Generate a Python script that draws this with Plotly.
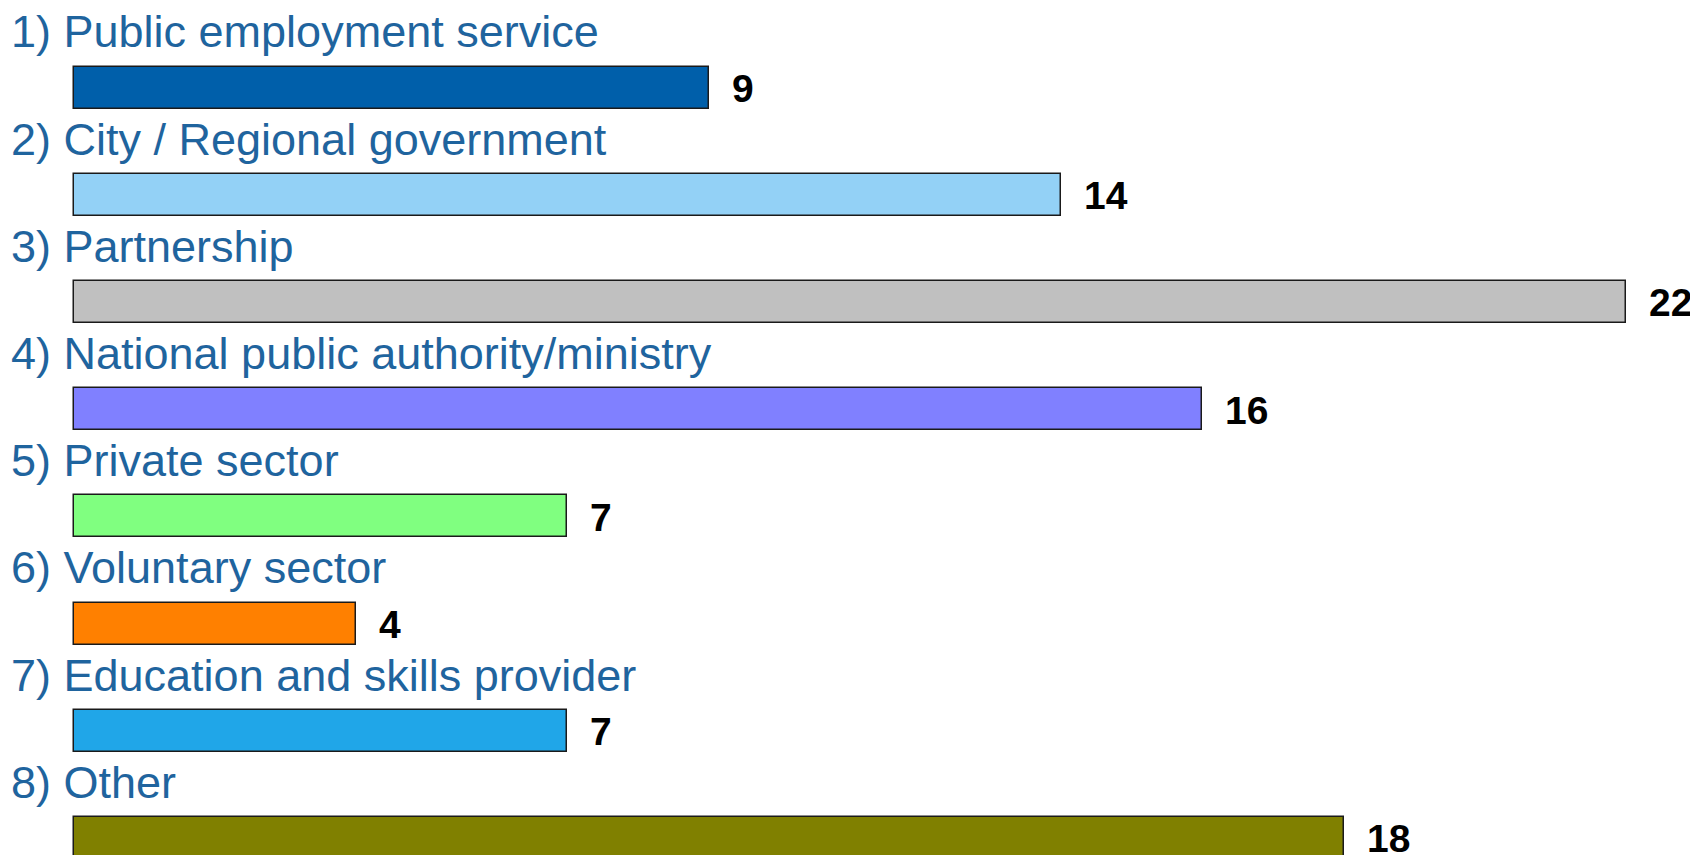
import plotly.graph_objects as go

categories = [
    "1) Public employment service",
    "2) City / Regional government",
    "3) Partnership",
    "4) National public authority/ministry",
    "5) Private sector",
    "6) Voluntary sector",
    "7) Education and skills provider",
    "8) Other",
]
values = [9, 14, 22, 16, 7, 4, 7, 18]
colors = ["#005FAA", "#93D1F6", "#C0C0C0", "#8080FF", "#80FF80", "#FF8000", "#20A6E8", "#808000"]

# page body has an 8px margin; compensate so marks land where the reference has them
OFF = 8
W, H = 1698, 855
x0_px, px_per_unit = 73.6 - OFF, 70.55
y0_px, pitch = 87.5 - OFF, 107.2

pos = list(range(len(categories)))

fig = go.Figure()
fig.add_trace(go.Bar(
    x=values, y=pos, orientation="h",
    marker=dict(color=colors, line=dict(color="#1a1a1a", width=1.5)),
    width=42 / pitch,
    hoverinfo="skip",
))

for i, (c, v) in enumerate(zip(categories, values)):
    fig.add_annotation(
        x=0, xref="paper", xanchor="left", xshift=1,
        y=i - 0.5, yref="y", yanchor="middle", yshift=2,
        text=c, showarrow=False,
        font=dict(family="Liberation Sans, Arial", size=45, color="#1F649E"),
    )
    fig.add_annotation(
        x=v, xref="x", xanchor="left", xshift=21,
        y=i, yref="y", yanchor="middle", yshift=-1,
        text=f"<b>{v}</b>", showarrow=False,
        font=dict(family="Liberation Sans, Arial", size=39, color="#000000"),
    )

fig.update_layout(
    width=W, height=H,
    margin=dict(l=0, r=0, t=0, b=0),
    paper_bgcolor="white", plot_bgcolor="white",
    showlegend=False,
    bargap=0,
    xaxis=dict(range=[-x0_px / px_per_unit, (W - x0_px) / px_per_unit],
               visible=False, fixedrange=True),
    yaxis=dict(range=[(H - y0_px) / pitch, -y0_px / pitch],
               visible=False, fixedrange=True),
)

fig.write_html("out.html", config={"displayModeBar": False})
